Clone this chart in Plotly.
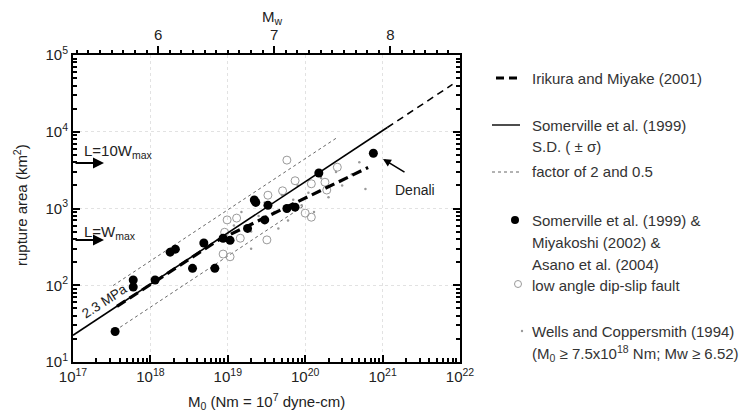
import plotly.graph_objects as go

# ---------------- data ----------------
# Somerville et al. (1999) & Miyakoshi (2002) & Asano et al. (2004): filled circles
blk_m0 = [3.5e17, 6.0e17, 6.0e17, 1.15e18, 1.8e18, 2.1e18, 3.5e18, 4.9e18, 6.8e18,
          8.7e18, 1.07e19, 1.8e19, 2.2e19, 2.3e19, 3.0e19, 3.3e19, 5.8e19, 7.4e19,
          1.5e20, 7.6e20]
blk_area = [25, 117, 95, 117, 270, 295, 166, 355, 166,
            410, 385, 550, 1290, 1200, 710, 1100, 1000, 1040,
            2900, 5250]

# low angle dip-slip fault: open circles
open_m0 = [5.8e19, 2.6e20, 7.4e19, 1.2e20, 1.8e20, 5.1e19, 3.3e19, 9.8e18, 1.3e19,
           9.1e18, 1.45e19, 8.7e18, 1.07e19, 1.0e20, 1.2e20, 3.2e19, 1.9e20]
open_area = [4270, 3450, 2300, 2100, 2200, 1700, 1490, 710, 750,
             490, 410, 255, 235, 870, 770, 390, 1740]

# Wells and Coppersmith (1994): tiny dots
wc_m0 = [1.2e19, 1.5e19, 2.0e19, 2.5e19, 3.0e19, 4.0e19, 5.0e19, 6.0e19, 7.0e19,
         8.0e19, 9.0e19, 1.1e20, 1.3e20, 1.6e20, 2.0e20, 2.5e20, 3.0e20, 4.0e20,
         5.0e20, 6.0e20, 2.0e19, 4.5e19]
wc_area = [600, 900, 500, 800, 1200, 900, 1500, 700, 1300,
           2000, 1100, 1600, 900, 2500, 1400, 3000, 2000, 2800,
           4000, 1800, 300, 550]

# model lines (end points)
som_m0 = [1e17, 1.15e21]
som_area = [22.3, 11350]
som_ext_m0 = [1.15e21, 8e21]
som_ext_area = [11350, 41400]
f2_m0 = [3.3e17, 2.6e20]
f2_area = [99, 8430]
f05_m0 = [3.5e17, 1.0e20]
f05_area = [25.7, 1114]
iri_m0 = [3.7e17, 7.5e18, 6.5e20]
iri_area = [53, 385, 3420]

x_ticks = [1e17, 1e18, 1e19, 1e20, 1e21, 1e22]
x_ticktext = ["10<sup>17</sup>", "10<sup>18</sup>", "10<sup>19</sup>",
              "10<sup>20</sup>", "10<sup>21</sup>", "10<sup>22</sup>"]
y_ticks = [1e1, 1e2, 1e3, 1e4, 1e5]
y_ticktext = ["10<sup>1</sup>", "10<sup>2</sup>", "10<sup>3</sup>",
              "10<sup>4</sup>", "10<sup>5</sup>"]
mw_ticks = [6, 7, 8]
mw_minor = [round(5.3 + 0.1 * i, 1) for i in range(33)]
mw_range = [5.2667, 8.6]

x_minor = [k * 10.0 ** d for d in range(17, 22) for k in range(2, 10)]
y_minor = [k * 10.0 ** d for d in range(1, 5) for k in range(2, 10)]

# ---------------- figure ----------------
FONT = "Liberation Sans, Arial, sans-serif"
INK = "#222222"
W, H = 751, 414
L, R, T, B = 73, 291, 55, 52
PW, PH = W - L - R, H - T - B


def px(x):
    return (x - L) / PW


def py(y):
    return (H - B - y) / PH


fig = go.Figure()

fig.add_trace(go.Scatter(x=wc_m0, y=wc_area, mode="markers",
                         marker=dict(size=2.5, color="#9a9a9a"), hoverinfo="skip"))
fig.add_trace(go.Scatter(x=f2_m0, y=f2_area, mode="lines",
                         line=dict(color="#666666", width=1, dash="dot")))
fig.add_trace(go.Scatter(x=f05_m0, y=f05_area, mode="lines",
                         line=dict(color="#666666", width=1, dash="dot")))
fig.add_trace(go.Scatter(x=open_m0, y=open_area, mode="markers",
                         marker=dict(size=8, color="rgba(0,0,0,0)",
                                     line=dict(color="#9a9a9a", width=1))))
fig.add_trace(go.Scatter(x=som_m0, y=som_area, mode="lines",
                         line=dict(color="black", width=1.6)))
fig.add_trace(go.Scatter(x=som_ext_m0, y=som_ext_area, mode="lines",
                         line=dict(color="black", width=1.6, dash="7px,5px")))
fig.add_trace(go.Scatter(x=iri_m0, y=iri_area, mode="lines",
                         line=dict(color="black", width=3.2, dash="10px,5px")))
fig.add_trace(go.Scatter(x=blk_m0, y=blk_area, mode="markers",
                         marker=dict(size=9, color="black")))
# invisible traces so the extra axes are drawn
fig.add_trace(go.Scatter(x=mw_ticks, y=[100, 100, 100], xaxis="x2", mode="markers",
                         marker=dict(opacity=0), hoverinfo="skip"))
fig.add_trace(go.Scatter(x=mw_ticks, y=[100, 100, 100], xaxis="x4", mode="markers",
                         marker=dict(opacity=0), hoverinfo="skip"))
fig.add_trace(go.Scatter(x=[1e19], y=[100], xaxis="x3", yaxis="y2", mode="markers",
                         marker=dict(opacity=0), hoverinfo="skip"))

axis_font = dict(family=FONT, size=15, color=INK)
tick_common = dict(tickcolor="#000000", tickwidth=1.5, zeroline=False, showgrid=False)

fig.update_layout(
    width=W, height=H, autosize=False,
    margin=dict(l=L, r=R, t=T, b=B, pad=0),
    paper_bgcolor="white", plot_bgcolor="white",
    showlegend=False,
    font=dict(family=FONT, color=INK),
    xaxis=dict(type="log", range=[17, 22], tickmode="array", tickvals=x_ticks,
               ticktext=x_ticktext, ticks="inside", ticklen=7, tickwidth=1.5,
               tickcolor="#000000", showline=True, linecolor="black", linewidth=2,
               mirror=False, showgrid=True, gridcolor="#e2e2e2", griddash="dot",
               gridwidth=1, zeroline=False, tickfont=axis_font, layer="above traces"),
    # minor ticks of the bottom axis
    xaxis3=dict(type="log", range=[17, 22], overlaying="x", anchor="y", side="bottom",
                tickmode="array", tickvals=x_minor, ticks="inside", ticklen=4,
                showticklabels=False, showline=False, layer="above traces",
                **tick_common),
    xaxis2=dict(overlaying="x", side="top", anchor="y", range=mw_range,
                tickmode="array", tickvals=mw_ticks, ticks="outside", ticklen=7,
                showline=True, linecolor="black", linewidth=1.5,
                tickfont=axis_font, layer="above traces", **tick_common),
    # minor ticks of the top Mw axis
    xaxis4=dict(overlaying="x", side="top", anchor="y", range=mw_range,
                tickmode="array", tickvals=mw_minor, ticks="outside", ticklen=4,
                showticklabels=False, showline=False, layer="above traces",
                **tick_common),
    yaxis=dict(type="log", range=[1, 5], tickmode="array", tickvals=y_ticks,
               ticktext=y_ticktext, ticks="inside", ticklen=7, tickwidth=1.5,
               tickcolor="#000000", showline=True, linecolor="black", linewidth=2,
               mirror="ticks", showgrid=True, gridcolor="#e2e2e2", griddash="dot",
               gridwidth=1, zeroline=False, tickfont=axis_font, layer="above traces"),
    yaxis2=dict(type="log", range=[1, 5], overlaying="y", anchor="x", side="left",
                tickmode="array", tickvals=y_minor, ticks="inside", ticklen=4,
                showticklabels=False, showline=False, mirror="ticks",
                layer="above traces", **tick_common),
)

ann = []


def add_text(x, y, text, size=15, color=INK, xanchor="center", **kw):
    d = dict(xref="paper", yref="paper", x=px(x), y=py(y), text=text,
             xanchor=xanchor, yanchor="middle", showarrow=False,
             font=dict(family=FONT, size=size, color=color))
    d.update(kw)
    ann.append(d)


def add_arrow(x, y, ax, ay, width):
    ann.append(dict(xref="paper", yref="paper", x=px(x), y=py(y), ax=ax, ay=ay,
                    axref="pixel", ayref="pixel", text="", showarrow=True,
                    arrowhead=2, arrowsize=1, arrowwidth=width, arrowcolor="black"))


# axis titles
add_text(272, 18, "M<sub>w</sub>")
add_text(266, 401, "M<sub>0</sub> (Nm = 10<sup>7</sup> dyne-cm)")
add_text(20, 205, "rupture area (km<sup>2</sup>)", textangle=-90)
# in-plot labels
add_text(82, 151, "L=10W<sub>max</sub>", xanchor="left")
add_arrow(104, 163, -30, 0, 2.2)
add_text(82, 232, "L=W<sub>max</sub>", xanchor="left")
add_arrow(104, 240, -30, 0, 2.2)
add_text(104, 301, "2.3 MPa", size=13.5, textangle=-33)
add_arrow(383, 159, 23, 14, 1.6)
add_text(415, 190, "Denali", size=14)

# legend texts
leg_items = [(78, "Irikura and Miyake (2001)"),
             (125, "Somerville et al. (1999)"),
             (146, "S.D. ( ± σ)"),
             (171, "factor of 2 and 0.5"),
             (220, "Somerville et al. (1999) &"),
             (242, "Miyakoshi (2002) &"),
             (264, "Asano et al. (2004)"),
             (285, "low angle dip-slip fault"),
             (331, "Wells and Coppersmith (1994)"),
             (353, "(M<sub>0</sub> ≥ 7.5x10<sup>18</sup> Nm; Mw ≥ 6.52)")]
for yy, tt in leg_items:
    add_text(530, yy, tt, color="#333333", xanchor="left")
fig.update_layout(annotations=ann)

shapes = []
shapes.append(dict(type="line", xref="paper", yref="paper", x0=px(496), x1=px(522),
                   y0=py(78), y1=py(78), line=dict(color="black", width=3.2, dash="8px,5px")))
shapes.append(dict(type="line", xref="paper", yref="paper", x0=px(492), x1=px(520),
                   y0=py(125), y1=py(125), line=dict(color="black", width=1.4)))
shapes.append(dict(type="line", xref="paper", yref="paper", x0=px(492), x1=px(520),
                   y0=py(172), y1=py(172), line=dict(color="#666666", width=1, dash="dot")))
shapes.append(dict(type="circle", xref="paper", yref="paper", xsizemode="pixel",
                   ysizemode="pixel", xanchor=px(515), yanchor=py(220),
                   x0=-4, x1=4, y0=-4, y1=4, fillcolor="black", line=dict(width=0)))
shapes.append(dict(type="circle", xref="paper", yref="paper", xsizemode="pixel",
                   ysizemode="pixel", xanchor=px(518), yanchor=py(284),
                   x0=-3.5, x1=3.5, y0=-3.5, y1=3.5, line=dict(color="#9a9a9a", width=1)))
shapes.append(dict(type="circle", xref="paper", yref="paper", xsizemode="pixel",
                   ysizemode="pixel", xanchor=px(522), yanchor=py(331),
                   x0=-1.2, x1=1.2, y0=-1.2, y1=1.2, fillcolor="#9a9a9a", line=dict(width=0)))
fig.update_layout(shapes=shapes)

fig.write_html("out.html")
